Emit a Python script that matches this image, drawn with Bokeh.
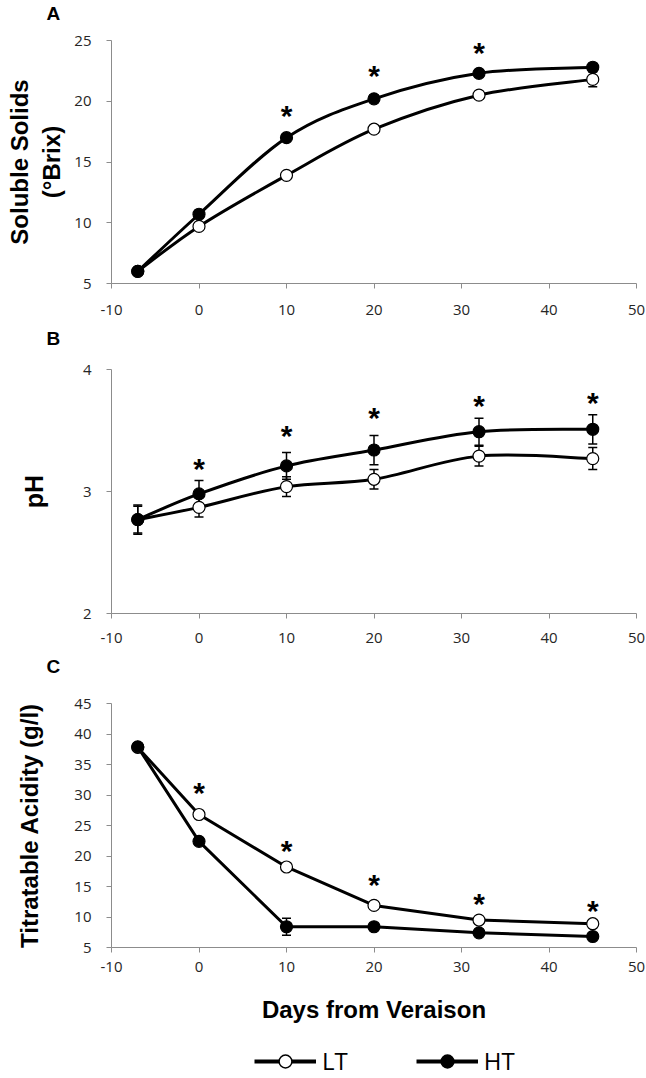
from bokeh.plotting import figure
from bokeh.models import (FixedTicker, Range1d, Whisker, TeeHead, Title,
                          ColumnDataSource, Legend, LegendItem)
from bokeh.layouts import column
from bokeh.embed import file_html
from bokeh.resources import INLINE
from bokeh.core.properties import value

# ---------------- data ----------------
days = [-7, 0, 10, 20, 32, 45]
x_ticks = [-10, 0, 10, 20, 30, 40, 50]
x_tick_labels = ["-10", "0", "10", "20", "30", "40", "50"]

# A: soluble solids (°Brix)
ss_lt = [6.0, 9.7, 13.9, 17.7, 20.5, 21.8]
ss_ht = [6.0, 10.7, 17.0, 20.2, 22.3, 22.8]
ss_lt_err = [0.2, 0.3, 0.3, 0.3, 0.3, 0.6]
ss_ht_err = [0.2, 0.3, 0.3, 0.3, 0.3, 0.3]
ss_sig_days = [10, 20, 32]
ss_sig_y = [19.2, 22.5, 24.4]
ss_ticks = [5, 10, 15, 20, 25]

# B: pH
ph_lt = [2.77, 2.87, 3.04, 3.10, 3.29, 3.27]
ph_ht = [2.77, 2.98, 3.21, 3.34, 3.49, 3.51]
ph_lt_err = [0.11, 0.08, 0.08, 0.08, 0.08, 0.09]
ph_ht_err = [0.12, 0.11, 0.11, 0.12, 0.11, 0.12]
ph_sig_days = [0, 10, 20, 32, 45]
ph_sig_y = [3.23, 3.50, 3.65, 3.75, 3.77]
ph_ticks = [2, 3, 4]

# C: titratable acidity (g/l)
ta_lt = [37.8, 26.8, 18.2, 11.9, 9.5, 8.9]
ta_ht = [37.9, 22.4, 8.4, 8.4, 7.4, 6.8]
ta_lt_err = [0.5, 0.5, 0.5, 0.4, 0.4, 0.4]
ta_ht_err = [0.5, 0.5, 1.4, 0.4, 0.4, 0.4]
ta_sig_days = [0, 10, 20, 32, 45]
ta_sig_y = [31.3, 21.7, 16.1, 13.0, 11.9]
ta_ticks = [5, 10, 15, 20, 25, 30, 35, 40, 45]

series_names = ["LT", "HT"]
panel_letters = ["A", "B", "C"]

# ---------------- style ----------------
AXIS_GRAY = "#8c8c8c"
TICK_FONT = "Open Sans"
BOLD_FONT = "Liberation Sans"
W = 646
LEFT = 111


def smooth(xs, ys):
    """Cubic Bezier segments (Catmull-Rom tangents) like a smoothed Excel line."""
    n = len(xs)
    out = dict(x0=[], y0=[], x1=[], y1=[], cx0=[], cy0=[], cx1=[], cy1=[])
    for i in range(n - 1):
        xm, ym = (xs[i - 1], ys[i - 1]) if i > 0 else (xs[i], ys[i])
        xp, yp = (xs[i + 2], ys[i + 2]) if i + 2 < n else (xs[i + 1], ys[i + 1])
        out["x0"].append(xs[i]); out["y0"].append(ys[i])
        out["x1"].append(xs[i + 1]); out["y1"].append(ys[i + 1])
        out["cx0"].append(xs[i] + (xs[i + 1] - xm) / 6.0)
        out["cy0"].append(ys[i] + (ys[i + 1] - ym) / 6.0)
        out["cx1"].append(xs[i + 1] - (xp - xs[i]) / 6.0)
        out["cy1"].append(ys[i + 1] - (yp - ys[i]) / 6.0)
    return out


def letter_title(txt, standoff, valign, pad_top=0, pad_bottom=0):
    t = Title(text=txt, align="left", offset=-65, standoff=standoff,
              vertical_align=valign, text_font=BOLD_FONT,
              text_font_style="bold", text_font_size="19px",
              text_color="black")
    try:
        t.padding = dict(left=0, right=0, top=pad_top, bottom=pad_bottom)
    except Exception:
        pass
    return t


def panel(height, btop, bbot, yr, yticks, ylabel, ylabel_size, ylabel_standoff,
          xlabel_standoff, bottom_letter=None):
    p = figure(width=W, height=height, x_range=Range1d(-10, 50),
               y_range=Range1d(*yr), output_backend="svg",
               toolbar_location=None, min_border_left=LEFT, min_border_right=10,
               min_border_top=btop, min_border_bottom=bbot,
               title_location=None)
    p.grid.visible = False
    p.outline_line_color = None
    p.background_fill_color = "white"
    p.border_fill_color = "white"
    p.xaxis.ticker = FixedTicker(ticks=x_ticks)
    p.xaxis.major_label_overrides = dict(zip(x_ticks, x_tick_labels))
    p.yaxis.ticker = FixedTicker(ticks=yticks)
    for ax in (p.xaxis[0], p.yaxis[0]):
        ax.axis_line_color = AXIS_GRAY
        ax.major_tick_line_color = AXIS_GRAY
        ax.minor_tick_line_color = None
        ax.major_tick_in = 0
        ax.major_tick_out = 5
        ax.major_label_text_font = TICK_FONT
        ax.major_label_text_font_size = "15px"
        ax.major_label_text_color = "#262626"
    p.yaxis.major_label_standoff = 15
    p.xaxis.major_label_standoff = xlabel_standoff
    p.yaxis.axis_label = ylabel
    p.yaxis.axis_label_text_font = BOLD_FONT
    p.yaxis.axis_label_text_font_style = "bold"
    p.yaxis.axis_label_text_font_size = ylabel_size
    p.yaxis.axis_label_text_color = "black"
    p.yaxis.axis_label_standoff = ylabel_standoff
    if bottom_letter is not None:
        p.add_layout(letter_title(bottom_letter, 4, "top", pad_top=8), "below")
    return p


def add_series(p, lt, ht, lt_err, ht_err, sig_days, sig_y, smoothed):
    for vals, errs in ((lt, lt_err), (ht, ht_err)):
        src = ColumnDataSource(dict(x=days,
                                    lo=[v - e for v, e in zip(vals, errs)],
                                    hi=[v + e for v, e in zip(vals, errs)]))
        w = Whisker(source=src, base="x", upper="hi", lower="lo",
                    dimension="height", line_color="black", line_width=1.5,
                    level="underlay",
                    upper_head=TeeHead(size=9, line_width=1.5, line_color="black"),
                    lower_head=TeeHead(size=9, line_width=1.5, line_color="black"))
        p.add_layout(w)
    for vals in (lt, ht):
        if smoothed:
            p.bezier(source=ColumnDataSource(smooth(days, vals)),
                     x0="x0", y0="y0", x1="x1", y1="y1",
                     cx0="cx0", cy0="cy0", cx1="cx1", cy1="cy1",
                     line_color="black", line_width=3)
        else:
            p.line(days, vals, line_color="black", line_width=3)
    p.scatter(days, lt, size=12, fill_color="white", line_color="black",
              line_width=1.2)
    p.scatter(days, ht, size=12, fill_color="black", line_color="black",
              line_width=1.2)
    p.text(x=sig_days, y=sig_y, text=["*"] * len(sig_days),
           text_font=value(BOLD_FONT), text_font_style="bold",
           text_font_size="30px", text_align="center",
           text_baseline="alphabetic", y_offset=5, text_color="black")


# ---------------- strip holding letter A ----------------
pT = figure(width=W, height=25, x_range=Range1d(-10, 50), y_range=Range1d(0, 1),
            output_backend="svg", toolbar_location=None,
            x_axis_type=None, y_axis_type=None, title_location=None,
            min_border_left=LEFT, min_border_right=10, min_border_top=0,
            min_border_bottom=0)
pT.grid.visible = False
pT.outline_line_color = None
pT.add_layout(letter_title(panel_letters[0], 0, "top"), "below")

# ---------------- panel A (carries letter B below) ----------------
pA = panel(334, 15, 76, (5, 25), ss_ticks, "Soluble Solids\n(°Brix)", "24px", 6, 16,
           bottom_letter=panel_letters[1])
add_series(pA, ss_lt, ss_ht, ss_lt_err, ss_ht_err, ss_sig_days, ss_sig_y, True)

# ---------------- panel B (carries letter C below) ----------------
pB = panel(328, 10, 74, (2, 4), ph_ticks, "pH", "25px", 32, 14,
           bottom_letter=panel_letters[2])
add_series(pB, ph_lt, ph_ht, ph_lt_err, ph_ht_err, ph_sig_days, ph_sig_y, True)

# ---------------- panel C ----------------
pC = panel(353, 16, 93, (5, 45), ta_ticks, "Titratable Acidity (g/l)", "24px", 28, 9)
add_series(pC, ta_lt, ta_ht, ta_lt_err, ta_ht_err, ta_sig_days, ta_sig_y, False)
pC.xaxis.axis_label = "Days from Veraison"
pC.xaxis.axis_label_text_font = BOLD_FONT
pC.xaxis.axis_label_text_font_style = "bold"
pC.xaxis.axis_label_text_font_size = "24px"
pC.xaxis.axis_label_text_color = "black"
pC.xaxis.axis_label_standoff = 21

# ---------------- legend ----------------
# legend keys come from renderers of the real series drawn outside the visible range
pL = figure(width=W, height=37, x_range=Range1d(-10, 50), y_range=Range1d(100, 101),
            output_backend="svg", toolbar_location=None,
            x_axis_type=None, y_axis_type=None, min_border=0)
pL.grid.visible = False
pL.outline_line_color = None
l1 = pL.line(days, ss_lt, line_color="black", line_width=4)
m1 = pL.scatter(days, ss_lt, size=15, fill_color="white", line_color="black",
                line_width=1.5)
l2 = pL.line(days, ss_ht, line_color="black", line_width=4)
m2 = pL.scatter(days, ss_ht, size=15, fill_color="black", line_color="black",
                line_width=1.5)
leg = Legend(items=[LegendItem(label=series_names[0], renderers=[l1, m1]),
                    LegendItem(label=series_names[1], renderers=[l2, m2])],
             orientation="horizontal", location=(143, 0),
             glyph_width=62, glyph_height=32, label_standoff=6, spacing=68,
             padding=0, margin=0, border_line_color=None,
             background_fill_alpha=0, label_text_font=TICK_FONT,
             label_text_font_size="24px", label_text_color="black")
pL.add_layout(leg, "center")

layout = column(pT, pA, pB, pC, pL, spacing=0)
open("out.html", "w").write(file_html(layout, INLINE))
